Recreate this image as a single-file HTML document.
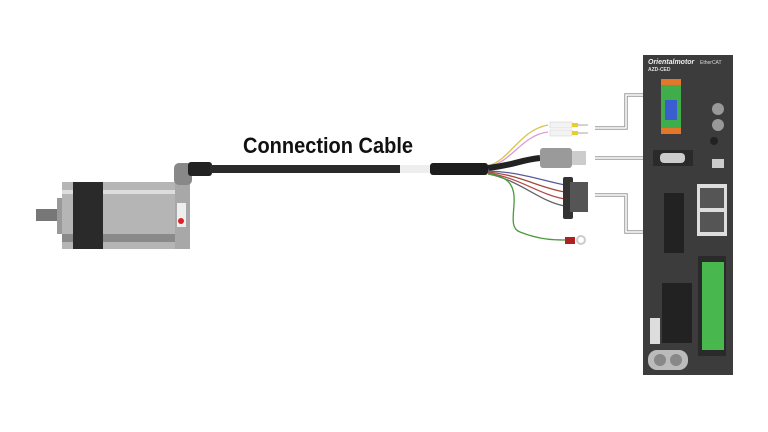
<!DOCTYPE html>
<html><head><style>body{margin:0;background:#fff}svg{display:block}</style></head><body>
<svg width="768" height="432" viewBox="0 0 768 432" xmlns="http://www.w3.org/2000/svg">
<rect width="768" height="432" fill="#fff"/>
<!-- motor -->
<rect x="36" y="209" width="26" height="12" fill="#777"/>
<rect x="57" y="198" width="6" height="36" fill="#999"/>
<rect x="62" y="182" width="128" height="67" fill="#b5b5b5"/>
<rect x="62" y="190" width="128" height="4" fill="#ddd"/>
<rect x="62" y="234" width="128" height="8" fill="#8a8a8a"/>
<rect x="73" y="182" width="30" height="67" fill="#2a2a2a"/>
<rect x="175" y="182" width="15" height="67" fill="#a8a8a8"/>
<rect x="177" y="203" width="9" height="24" fill="#eee"/>
<circle cx="181" cy="221" r="3" fill="#d22"/>
<!-- motor connector -->
<rect x="174" y="163" width="18" height="22" rx="5" fill="#888"/>
<rect x="188" y="162" width="24" height="14" rx="3" fill="#222"/>
<!-- cable -->
<rect x="210" y="165" width="222" height="8" fill="#2a2a2a"/>
<rect x="400" y="165" width="32" height="8" fill="#eee"/>
<rect x="430" y="163" width="58" height="12" rx="3" fill="#1d1d1d"/>
<text x="243" y="153" font-family="Liberation Sans, sans-serif" font-weight="bold" font-size="22" textLength="170" lengthAdjust="spacingAndGlyphs" fill="#111">Connection Cable</text>
<!-- wires -->
<path d="M488 166 C510 160 520 130 548 125" stroke="#d8c34a" stroke-width="1.3" fill="none"/>
<path d="M488 167 C512 162 522 135 548 132" stroke="#d99ad8" stroke-width="1.3" fill="none"/>
<path d="M488 168 C515 165 520 160 540 158" stroke="#222" stroke-width="6" fill="none"/>
<path d="M488 171 C520 172 540 180 565 185" stroke="#5a5aa0" stroke-width="1.3" fill="none"/>
<path d="M488 172 C520 175 540 188 565 192" stroke="#a04a3a" stroke-width="1.3" fill="none"/>
<path d="M488 173 C520 178 540 195 565 199" stroke="#b34a4a" stroke-width="1.3" fill="none"/>
<path d="M488 174 C520 180 540 202 565 206" stroke="#666" stroke-width="1.3" fill="none"/>
<path d="M488 174 C535 178 500 225 520 232 C540 240 555 240 566 240" stroke="#4a9a3a" stroke-width="1.3" fill="none"/>
<rect x="550" y="122" width="22" height="6" fill="#f3f3f3" stroke="#ccc" stroke-width=".5"/>
<rect x="550" y="130" width="22" height="6" fill="#f3f3f3" stroke="#ccc" stroke-width=".5"/>
<rect x="572" y="123" width="6" height="4" fill="#e6cf2c"/><rect x="572" y="131" width="6" height="4" fill="#e6cf2c"/>
<line x1="578" y1="125" x2="588" y2="125" stroke="#aaa"/><line x1="578" y1="133" x2="588" y2="133" stroke="#aaa"/>
<rect x="540" y="148" width="32" height="20" rx="3" fill="#9a9a9a"/>
<rect x="572" y="151" width="14" height="14" fill="#ccc"/>
<rect x="563" y="177" width="10" height="42" rx="2" fill="#333"/>
<rect x="570" y="182" width="18" height="30" fill="#555"/>
<rect x="565" y="237" width="10" height="7" fill="#b02020"/>
<circle cx="581" cy="240" r="4" fill="none" stroke="#ccc" stroke-width="2"/>
<!-- leader lines -->
<g fill="none" stroke="#999" stroke-width="3.5"><path d="M595 128 H626 V95 H672"/><path d="M595 158 H672"/><path d="M595 195 H626 V232 H672"/></g>
<g fill="none" stroke="#fff" stroke-width="1.5"><path d="M595 128 H626 V95 H672"/><path d="M595 158 H672"/><path d="M595 195 H626 V232 H672"/></g>
<!-- driver -->
<rect x="643" y="55" width="90" height="320" fill="#3c3c3c"/>
<text x="648" y="64" font-family="Liberation Sans,sans-serif" font-weight="bold" font-style="italic" font-size="7" fill="#eee">Orientalmotor</text>
<text x="700" y="64" font-family="Liberation Sans,sans-serif" font-size="5" fill="#ddd">EtherCAT</text>
<text x="648" y="71" font-family="Liberation Sans,sans-serif" font-weight="bold" font-size="5" fill="#ddd">AZD-CED</text>
<rect x="661" y="79" width="20" height="55" fill="#3fae4a"/>
<rect x="661" y="79" width="20" height="6" fill="#e2772c"/>
<rect x="661" y="128" width="20" height="6" fill="#e2772c"/>
<rect x="665" y="100" width="12" height="20" fill="#3a5ed0"/>
<circle cx="718" cy="109" r="6" fill="#999"/><circle cx="718" cy="125" r="6" fill="#999"/>
<circle cx="714" cy="141" r="4" fill="#222"/>
<rect x="653" y="150" width="40" height="16" fill="#2a2a2a"/>
<rect x="660" y="153" width="25" height="10" rx="4" fill="#ccc"/>
<rect x="712" y="159" width="12" height="9" fill="#ccc"/>
<rect x="664" y="193" width="20" height="60" fill="#222"/>
<rect x="697" y="184" width="30" height="52" fill="#ddd"/>
<rect x="700" y="188" width="24" height="20" fill="#555"/><rect x="700" y="212" width="24" height="20" fill="#555"/>
<rect x="698" y="256" width="28" height="100" fill="#2a2a2a"/>
<rect x="702" y="262" width="22" height="88" fill="#48b84e"/>
<rect x="662" y="283" width="30" height="60" fill="#222"/>
<rect x="650" y="318" width="10" height="26" fill="#ddd"/>
<rect x="648" y="350" width="40" height="20" rx="9" fill="#bbb"/>
<circle cx="660" cy="360" r="6" fill="#888"/><circle cx="676" cy="360" r="6" fill="#888"/>
</svg>
</body></html>
